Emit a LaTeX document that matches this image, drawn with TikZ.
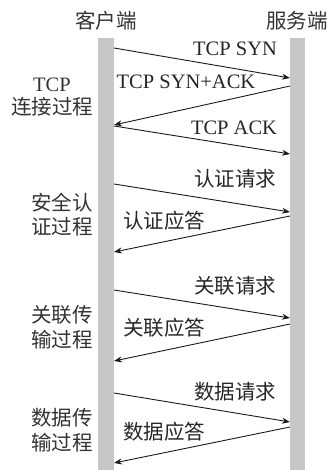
\documentclass[tikz,border=0pt]{standalone}
\usepackage{fontspec}
\setmainfont{Liberation Serif}
\newfontfamily\cjk{Noto Sans CJK SC}
\usetikzlibrary{arrows.meta}
\begin{document}
\begin{tikzpicture}[x=1pt,y=-1pt,
  bar/.style={fill=black!22,draw=none},
  msg/.style={-{Stealth[length=8pt,width=6pt]},line width=0.9pt,black!90},
  lbl/.style={font=\fontsize{20.5}{22}\selectfont,text=black!85,inner sep=0pt}]
\useasboundingbox (0,0) rectangle (330,470);
\fill[bar] (98,38) rectangle (114,470);
\fill[bar] (290,38) rectangle (305,470);
\node[lbl,text=black!80] (cl) at (106,21) {\cjk 客户端};
\node[lbl,text=black!80] (sv) at (297,21) {\cjk 服务端};
% endpoints
\coordinate (a1) at (114,48);  \coordinate (b1) at (290,78);
\coordinate (b2) at (290,86);  \coordinate (a2) at (114,125);
\coordinate (a3) at (114,126); \coordinate (b3) at (290,154);
\coordinate (a4) at (114,184); \coordinate (b4) at (290,212);
\coordinate (b5) at (290,216); \coordinate (a5) at (114,252);
\coordinate (a6) at (114,290); \coordinate (b6) at (290,318);
\coordinate (b7) at (290,324); \coordinate (a7) at (114,361);
\coordinate (a8) at (114,393); \coordinate (b8) at (290,422);
\coordinate (b9) at (290,427); \coordinate (a9) at (114,463);
\draw[msg] (a1) -- (b1);
\draw[msg] (b2) -- (a2);
\draw[msg] (a3) -- (b3);
\draw[msg] (a4) -- (b4);
\draw[msg] (b5) -- (a5);
\draw[msg] (a6) -- (b6);
\draw[msg] (b7) -- (a7);
\draw[msg] (a8) -- (b8);
\draw[msg] (b9) -- (a9);
% message labels
\node[lbl] (l1) at (235,49) {TCP SYN};
\node[lbl] (l2) at (186,82) {TCP SYN+ACK};
\node[lbl] (l3) at (234,128) {TCP ACK};
\node[lbl] (l4) at (235,179) {\cjk 认证请求};
\node[lbl] (l5) at (164,221) {\cjk 认证应答};
\node[lbl] (l6) at (235,286) {\cjk 关联请求};
\node[lbl] (l7) at (164,328) {\cjk 关联应答};
\node[lbl] (l8) at (235,392) {\cjk 数据请求};
\node[lbl] (l9) at (164,432) {\cjk 数据应答};
% side labels
\node[lbl,text=black!80] (s1a) at (52,85) {TCP};
\node[lbl,text=black!80] (s1b) at (52,107) {\cjk 连接过程};
\node[lbl,text=black!80] (s2a) at (62,203) {\cjk 安全认};
\node[lbl,text=black!80] (s2b) at (62,227) {\cjk 证过程};
\node[lbl,text=black!80] (s3a) at (62,315) {\cjk 关联传};
\node[lbl,text=black!80] (s3b) at (62,340) {\cjk 输过程};
\node[lbl,text=black!80] (s4a) at (62,418) {\cjk 数据传};
\node[lbl,text=black!80] (s4b) at (62,443) {\cjk 输过程};
\end{tikzpicture}
\end{document}
